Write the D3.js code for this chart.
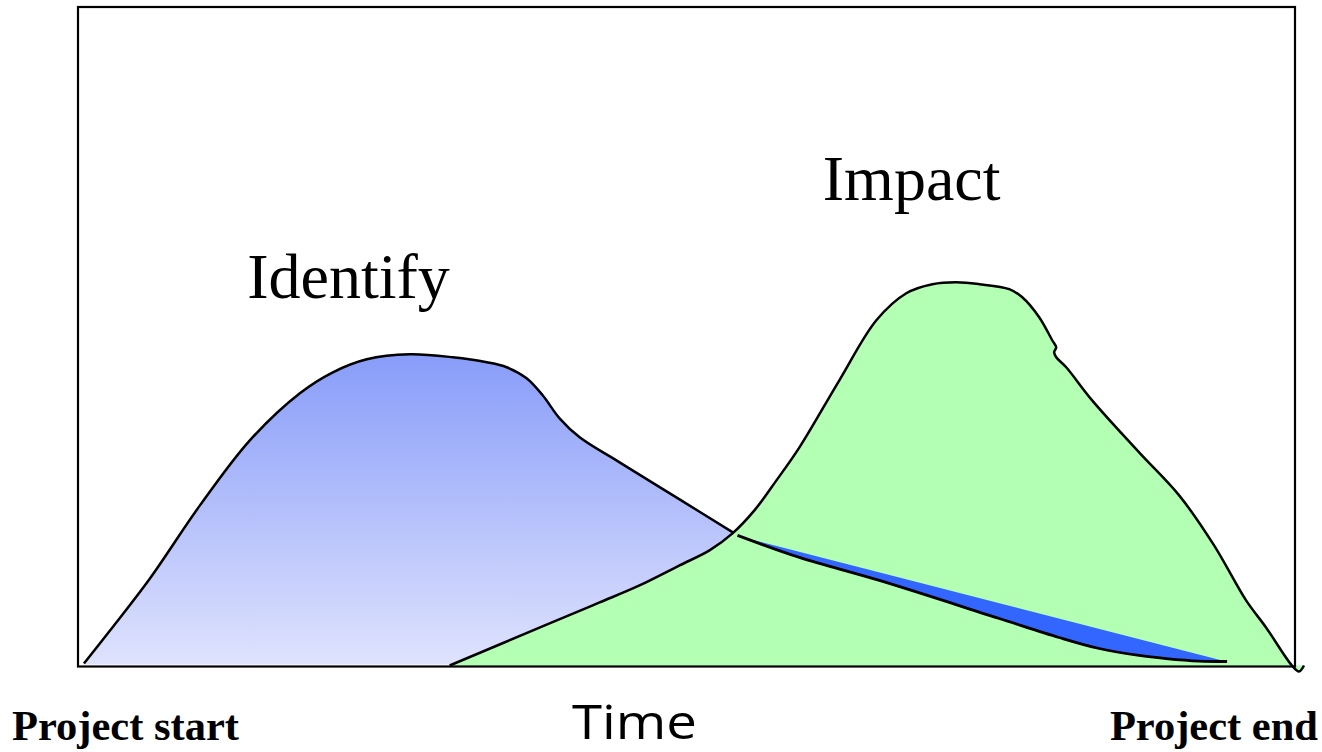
<!DOCTYPE html>
<html>
<head>
<meta charset="utf-8">
<script src="https://cdn.jsdelivr.net/npm/d3@7"></script>
<style>
  html, body { margin: 0; padding: 0; background: #fff; }
  svg { display: block; }
</style>
</head>
<body>
<svg id="chart" width="1322" height="752"></svg>
<script>
// ---- data (time 0..100, level 0..100) ----
const identifyT = [0.49, 2.63, 5.91, 10.02, 14.12, 18.23, 20.94, 23.73, 27.26, 30.79, 33.58, 35.22, 36.86, 38.18, 39.57, 41.22, 44.50, 49.43, 53.94];
const identifyV = [0.46, 5.46, 13.35, 24.43, 34.29, 41.43, 44.61, 46.59, 47.34, 46.89, 46.13, 45.37, 43.70, 41.12, 37.63, 34.75, 30.96, 25.34, 20.18];

const impactT = [30.54, 38.75, 42.86, 46.14, 49.43, 51.89, 53.78, 55.58, 57.39, 59.28, 62.56, 65.60, 68.06, 70.20, 72.17, 74.06, 76.52, 77.59, 78.98, 80.05, 80.38, 80.21, 80.38, 81.20, 83.33, 87.19, 90.48, 93.35, 95.98, 97.62, 99.75, 100.33, 100.74];
const impactV = [0.15, 6.53, 9.71, 12.29, 15.33, 17.60, 20.18, 23.67, 28.22, 33.23, 43.40, 52.50, 56.60, 57.97, 58.27, 57.97, 57.21, 55.99, 52.96, 49.47, 48.41, 47.65, 46.89, 45.37, 40.36, 32.47, 25.95, 18.36, 10.02, 5.92, 0.15, -0.76, 0.15];

const tailTopT = [54.35, 94.01];
const tailTopV = [19.73, 0.91];
const tailLowT = [54.19, 59.28, 65.85, 75.70, 80.62, 83.91, 87.19, 89.41, 92.12, 94.42];
const tailLowV = [19.88, 16.54, 13.05, 7.28, 4.40, 2.73, 1.67, 1.21, 0.83, 0.76];

const seriesLabels = ["Identify", "Impact"];
const labelT = [13.9, 61.2];
const labelV = [55.9, 70.8];
const axisTitle = "Time";
const endLabels = ["Project start", "Project end"];

// ---- layout ----
const svg = d3.select("#chart");
const x = d3.scaleLinear().domain([0, 100]).range([78, 1295]);
const y = d3.scaleLinear().domain([0, 100]).range([666.5, 7]);

const defs = svg.append("defs");
const grad = defs.append("linearGradient")
  .attr("id", "idGrad").attr("gradientUnits", "userSpaceOnUse")
  .attr("x1", 0).attr("x2", 0).attr("y1", y(47.5)).attr("y2", y(0));
grad.append("stop").attr("offset", 0).attr("stop-color", "#889cf9");
grad.append("stop").attr("offset", 1).attr("stop-color", "#dfe3fd");

const idPts = identifyT.map((t, i) => [t, identifyV[i]]);
const imPts = impactT.map((t, i) => [t, impactV[i]]);

const curve = d3.curveCatmullRom.alpha(0.5);

// Identify area
const idArea = d3.area().x(d => x(d[0])).y0(y(0.3)).y1(d => y(d[1])).curve(curve);
svg.append("path").attr("d", idArea(idPts)).attr("fill", "url(#idGrad)");
const idLine = d3.line().x(d => x(d[0])).y(d => y(d[1])).curve(curve);
svg.append("path").attr("d", idLine(idPts)).attr("fill", "none")
  .attr("stroke", "#000").attr("stroke-width", 2.5);

// Impact area
const imArea = d3.area().x(d => x(d[0])).y0(y(0)).y1(d => y(d[1])).curve(curve);
svg.append("path").attr("d", imArea(imPts.slice(0, 31))).attr("fill", "#b3ffb3");
svg.append("path").attr("d", idLine(imPts)).attr("fill", "#b3ffb3")
  .attr("stroke", "#000").attr("stroke-width", 2.5).attr("stroke-linejoin", "round");

// Tail of Identify
const topPts = tailTopT.map((t, i) => [t, tailTopV[i]]);
const lowPts = tailLowT.map((t, i) => [t, tailLowV[i]]);
const topLine = d3.line().x(d => x(d[0])).y(d => y(d[1]));
const lowLine = d3.line().x(d => x(d[0])).y(d => y(d[1])).curve(curve);
const tailPath = topLine(topPts) + lowLine(lowPts.slice().reverse()).replace(/^M/, "L") + "Z";
svg.append("path").attr("d", tailPath).attr("fill", "#3366ff");
svg.append("path").attr("d", lowLine(lowPts)).attr("fill", "none")
  .attr("stroke", "#000").attr("stroke-width", 2.8).attr("stroke-linecap", "butt");

// Frame
svg.append("rect")
  .attr("x", x(0)).attr("y", y(100))
  .attr("width", x(100) - x(0)).attr("height", y(0) - y(100))
  .attr("fill", "none").attr("stroke", "#000").attr("stroke-width", 2.2);

// Series labels
svg.selectAll("text.series").data(seriesLabels).join("text")
  .attr("class", "series")
  .attr("x", (d, i) => x(labelT[i])).attr("y", (d, i) => y(labelV[i]))
  .attr("font-family", "'Liberation Serif', 'Times New Roman', serif")
  .attr("font-size", 64).attr("fill", "#000")
  .text(d => d);

// Axis title
svg.append("text").attr("x", 572).attr("y", 739)
  .attr("font-family", "'Open Sans', sans-serif").attr("font-size", 47)
  .attr("textLength", 125).attr("lengthAdjust", "spacingAndGlyphs")
  .attr("fill", "#000").text(axisTitle);

// End labels
svg.append("text").attr("x", 12).attr("y", 740)
  .attr("font-family", "'Liberation Serif', serif").attr("font-weight", "bold")
  .attr("font-size", 42.5).text(endLabels[0]);
svg.append("text").attr("x", 1318).attr("y", 740).attr("text-anchor", "end")
  .attr("font-family", "'Liberation Serif', serif").attr("font-weight", "bold")
  .attr("font-size", 42.5).text(endLabels[1]);
</script>
</body>
</html>
